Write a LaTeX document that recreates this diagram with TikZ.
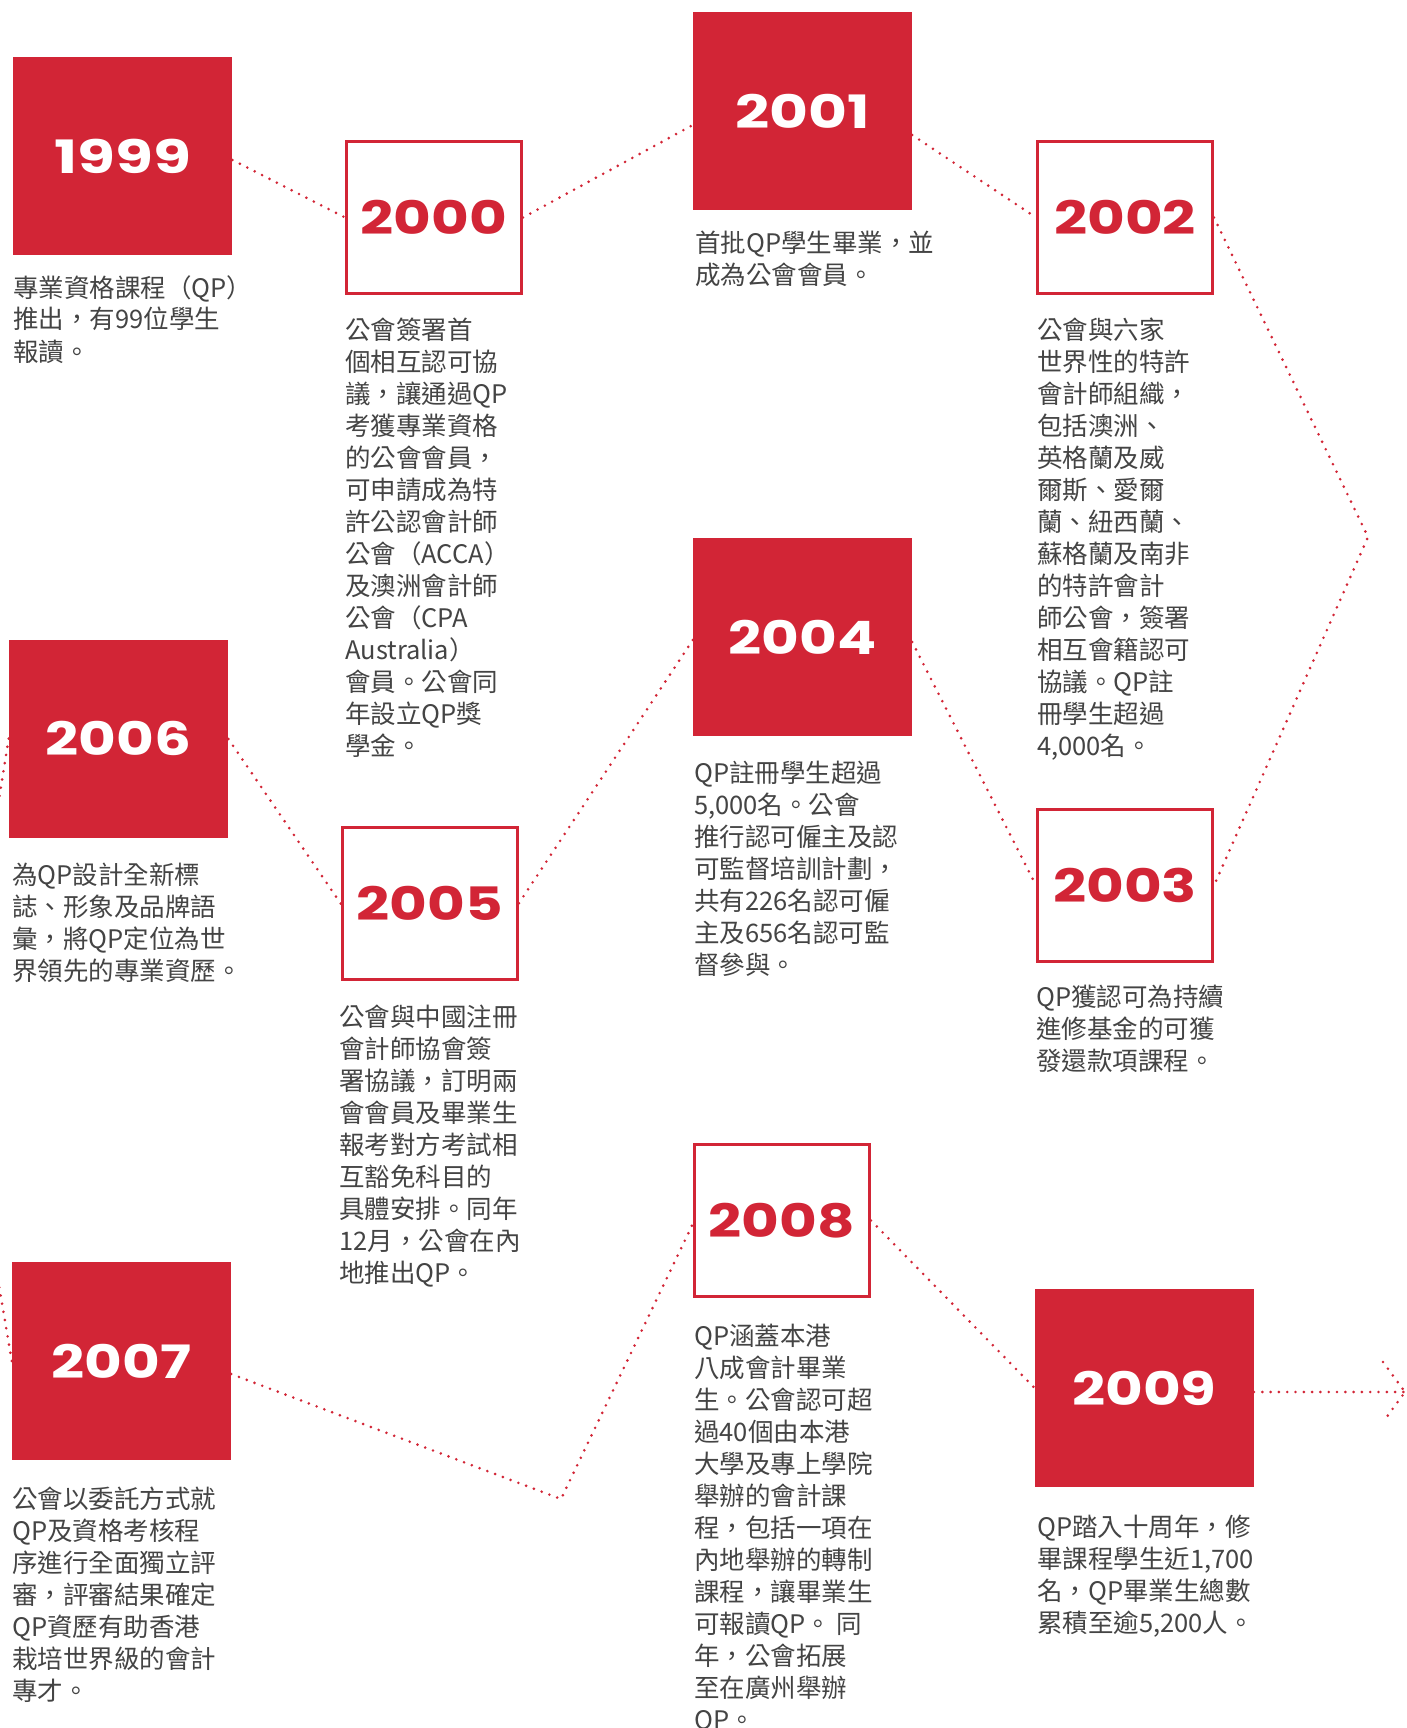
\documentclass[tikz,border=0pt]{standalone}
\usepackage{fontspec}
\newfontfamily\cjkfont{Noto Sans CJK TC}
\newfontfamily\yearfont{Poppins}
\definecolor{qpred}{HTML}{D22536}
\definecolor{qptext}{HTML}{444444}
\newcommand{\yr}[2][1.26]{\scalebox{#1}[1]{\yearfont\bfseries #2}}
\newcommand{\desclines}[1]{\begin{tabular}[t]{@{}l@{}}#1\end{tabular}}
\tikzset{
  filledbox/.style={rectangle, fill=qpred, text=white, minimum width=219pt, minimum height=198pt, inner sep=0pt, font=\fontsize{46}{46}\selectfont},
  outlinebox/.style={rectangle, draw=qpred, line width=3pt, fill=white, text=qpred, minimum width=175pt, minimum height=152pt, inner sep=0pt, font=\fontsize{46}{46}\selectfont},
  desc/.style={anchor=base west, inner sep=0pt, text=qptext, font=\cjkfont\fontsize{25.5}{32}\selectfont},
  conn/.style={draw=qpred, line width=2.9pt, line cap=round, dash pattern=on 0pt off 8.3pt},
}
\begin{document}
\begin{tikzpicture}[x=1pt,y=-1pt]
\useasboundingbox (0,0) rectangle (1407,1728);
\clip (0,0) rectangle (1407,1728);
\fill[white] (0,0) rectangle (1407,1728);

% year boxes
\node[filledbox]  (y1999) at (122.8,156)   {\yr[1.34]{1999}};
\node[outlinebox] (y2000) at (434,217.5)   {\yr{2000}};
\node[filledbox]  (y2001) at (802.5,111)   {\yr[1.3]{2001}};
\node[outlinebox] (y2002) at (1125,217.5)  {\yr{2002}};
\node[outlinebox] (y2003) at (1125,885.5)  {\yr{2003}};
\node[filledbox]  (y2004) at (802.5,637)   {\yr{2004}};
\node[outlinebox] (y2005) at (429.7,903.5) {\yr{2005}};
\node[filledbox]  (y2006) at (118.4,738.5) {\yr{2006}};
\node[filledbox]  (y2007) at (121.5,1361)  {\yr{2007}};
\node[outlinebox] (y2008) at (782,1220.5)  {\yr{2008}};
\node[filledbox]  (y2009) at (1144.3,1388) {\yr{2009}};

% descriptions
\node[desc] (d1999) at (13,297) {\desclines{專業資格課程（QP）\\推出，有99位學生\\報讀。}};
\node[desc] (d2000) at (345,339) {\desclines{公會簽署首\\個相互認可協\\議，讓通過QP\\考獲專業資格\\的公會會員，\\可申請成為特\\許公認會計師\\公會（ACCA）\\及澳洲會計師\\公會（CPA\\Australia）\\會員。公會同\\年設立QP獎\\學金。}};
\node[desc] (d2001) at (695,253) {\desclines{首批QP學生畢業，並\\成為公會會員。}};
\node[desc] (d2002) at (1037,339) {\desclines{公會與六家\\世界性的特許\\會計師組織，\\包括澳洲、\\英格蘭及威\\爾斯、愛爾\\蘭、紐西蘭、\\蘇格蘭及南非\\的特許會計\\師公會，簽署\\相互會籍認可\\協議。QP註\\冊學生超過\\4,000名。}};
\node[desc] (d2003) at (1036,1006.5) {\desclines{QP獲認可為持續\\進修基金的可獲\\發還款項課程。}};
\node[desc] (d2004) at (694,782) {\desclines{QP註冊學生超過\\5,000名。公會\\推行認可僱主及認\\可監督培訓計劃，\\共有226名認可僱\\主及656名認可監\\督參與。}};
\node[desc] (d2005) at (339,1026.5) {\desclines{公會與中國注冊\\會計師協會簽\\署協議，訂明兩\\會會員及畢業生\\報考對方考試相\\互豁免科目的\\具體安排。同年\\12月，公會在內\\地推出QP。}};
\node[desc] (d2006) at (12,884.5) {\desclines{為QP設計全新標\\誌、形象及品牌語\\彙，將QP定位為世\\界領先的專業資歷。}};
\node[desc] (d2007) at (12,1508) {\desclines{公會以委託方式就\\QP及資格考核程\\序進行全面獨立評\\審，評審結果確定\\QP資歷有助香港\\栽培世界級的會計\\專才。}};
\node[desc] (d2008) at (694,1345) {\desclines{QP涵蓋本港\\八成會計畢業\\生。公會認可超\\過40個由本港\\大學及專上學院\\舉辦的會計課\\程，包括一項在\\內地舉辦的轉制\\課程，讓畢業生\\可報讀QP。 同\\年，公會拓展\\至在廣州舉辦\\QP。}};
\node[desc] (d2009) at (1037,1536) {\desclines{QP踏入十周年，修\\畢課程學生近1,700\\名，QP畢業生總數\\累積至逾5,200人。}};

% turning points
\coordinate (apexR) at (1368,537);
\coordinate (apexL) at (-41,1050);
\coordinate (v78) at (561,1499);
\coordinate (arrtip) at (1405,1392);

% connectors
\draw[conn] ([yshift=-4pt]y1999.east) -- (y2000.west);
\draw[conn] (y2000.east) -- ([yshift=-14pt]y2001.west);
\draw[conn] ([yshift=-24pt]y2001.east) -- (y2002.west);
\draw[conn] (y2002.east) -- (apexR) -- (y2003.east);
\draw[conn] ([yshift=-5pt]y2004.east) -- (y2003.west);
\draw[conn] ([yshift=-3pt]y2004.west) -- (y2005.east);
\draw[conn] (y2005.west) -- (y2006.east);
\draw[conn] (y2006.west) -- (apexL) -- (y2007.west);
\draw[conn] ([yshift=-13pt]y2007.east) -- (v78) -- ([yshift=-3pt]y2008.west);
\draw[conn] (y2008.east) -- (y2009.west);
\draw[conn] ([yshift=-4pt]y2009.east) -- (arrtip);
\draw[conn] ([shift={(-22,-30)}]arrtip) -- (arrtip) -- ([shift={(-22,30)}]arrtip);
\end{tikzpicture}
\end{document}
